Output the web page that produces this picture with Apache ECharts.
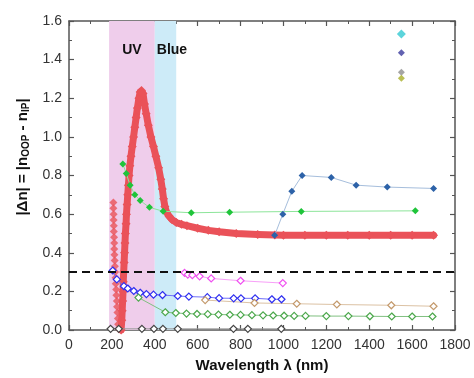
<!DOCTYPE html>
<html><head><meta charset="utf-8">
<script src="https://cdn.jsdelivr.net/npm/echarts@6/dist/echarts.min.js"></script>
<style>html,body{margin:0;padding:0;background:#fff}#c{width:474px;height:378px}</style>
</head><body><div id="c"></div>
<script>
// x tick labels / y tick labels
const xTicks = [0,200,400,600,800,1000,1200,1400,1600,1800];
const yTicks = [0.0,0.2,0.4,0.6,0.8,1.0,1.2,1.4,1.6];
const uvRange = [187, 400];
const blueRange = [400, 500];
const threshold = 0.3;

// Red main curve (wavelength nm, |Δn|)
const redMain = [[243,0.0],[246,0.05],[248,0.1],[250,0.15],[252,0.2],[253,0.25],[255,0.3],[257,0.35],[259,0.4],[261,0.45],[263,0.5],[266,0.55],[268,0.6],[271,0.65],[274,0.7],[277,0.75],[280,0.8],[284,0.85],[289,0.9],[295,0.95],[301,1.0],[307,1.05],[313,1.1],[319,1.15],[326,1.2],[332,1.232],[338,1.24],[345,1.225],[352,1.17],[360,1.12],[370,1.06],[382,1.0],[394,0.95],[405,0.9],[418,0.84],[428,0.78],[435,0.73],[441,0.68],[447,0.64],[455,0.61],[466,0.59],[480,0.572],[500,0.557],[525,0.547],[550,0.54],[600,0.527],[650,0.516],[700,0.509],[780,0.5],[880,0.495],[960,0.492],[1000,0.491],[1100,0.49],[1200,0.49],[1300,0.49],[1400,0.49],[1500,0.49],[1600,0.49],[1700,0.49]];
// Red left branch
const redLeft = [[207,0.66],[207,0.63],[208,0.6],[208,0.57],[209,0.54],[209,0.51],[210,0.48],[211,0.45],[211,0.42],[212,0.39],[213,0.36],[214,0.33],[215,0.30],[217,0.27],[218,0.24],[220,0.21],[221,0.18],[223,0.15],[224,0.12],[226,0.09],[228,0.06],[229,0.03],[231,0.005]];
// Green filled diamonds
const greenFilled = [[251,0.86],[267,0.81],[285,0.75],[307,0.70],[332,0.67],[375,0.635],[439,0.615],[570,0.607],[749,0.61],[1083,0.614],[1615,0.617]];
// Dark blue filled diamonds
const blueFilled = [[959,0.49],[997,0.60],[1039,0.718],[1087,0.80],[1223,0.79],[1339,0.75],[1484,0.74],[1700,0.733]];
// Pink open diamonds
const pinkOpen = [[539,0.296],[554,0.287],[575,0.284],[609,0.278],[663,0.267],[800,0.255],[997,0.243]];
// Blue open diamonds
const blueOpen = [[204,0.308],[223,0.262],[256,0.227],[274,0.215],[302,0.202],[332,0.193],[361,0.186],[394,0.183],[436,0.181],[507,0.176],[559,0.173],[645,0.17],[700,0.165],[768,0.164],[802,0.164],[868,0.164],[946,0.159],[991,0.159]];
// Tan open diamonds
const tanOpen = [[635,0.155],[865,0.14],[1062,0.136],[1249,0.132],[1503,0.128],[1700,0.123]];
// Green open diamonds
const greenOpen = [[324,0.168],[449,0.092],[498,0.088],[548,0.085],[597,0.083],[647,0.082],[697,0.08],[750,0.079],[800,0.078],[853,0.077],[905,0.076],[952,0.075],[1003,0.074],[1050,0.073],[1103,0.073],[1200,0.072],[1303,0.072],[1403,0.071],[1505,0.07],[1600,0.07],[1695,0.07]];
// Gray open diamonds near zero
const grayOpen = [[194,0.006],[232,0.006],[340,0.006],[396,0.006],[438,0.006],[507,0.006],[767,0.006],[834,0.006],[990,0.006]];
// Legend markers (top right)
const legendCyan = [[1550,1.533]];
const legendNavy = [[1550,1.436]];
const legendGray = [[1550,1.335]];
const legendOlive = [[1550,1.304]];

const chart = echarts.init(document.getElementById('c'));
const axisCol = '#555';
const lblCol = '#333';
function openSeries(data, col, lineCol) {
  return {type:'line', data, symbol:'diamond', symbolSize:7, showSymbol:true,
    itemStyle:{color:'#fff', borderColor:col, borderWidth:1.2},
    lineStyle:{color:lineCol, width:1}, animation:false, z:4};
}
function filledSeries(data, col, lineCol, size) {
  return {type:'line', data, symbol:'diamond', symbolSize:size||7,
    itemStyle:{color:col}, lineStyle:{color:lineCol, width:1}, animation:false, z:4};
}
function pt(data, col, size, sym) {
  return {type:'scatter', data, symbol:sym||'diamond', symbolSize:size||7, itemStyle:{color:col}, animation:false, z:5};
}
const option = {
  backgroundColor:'#fff',
  animation:false,
  grid:{left:69, right:19, top:21, bottom:46},
  xAxis:[{
    type:'value', min:0, max:1800, interval:200,
    axisLine:{onZero:false, lineStyle:{color:axisCol, width:1.5}},
    axisTick:{inside:true, length:5, lineStyle:{color:axisCol, width:1.2}},
    minorTick:{show:true, splitNumber:2, length:3, lineStyle:{color:axisCol, width:1}},
    axisLabel:{color:lblCol, fontSize:14, fontFamily:'Liberation Sans', margin:8, formatter:v=>xTicks.includes(v)?String(v):''},
    splitLine:{show:false},
    name:'Wavelength λ (nm)', nameLocation:'middle', nameGap:28,
    nameTextStyle:{color:'#111', fontSize:15, fontWeight:'bold', fontFamily:'Liberation Sans'}
  },{
    type:'value', position:'top', min:0, max:1800, interval:200,
    axisLine:{onZero:false, lineStyle:{color:axisCol, width:1.5}},
    axisTick:{inside:true, length:5, lineStyle:{color:axisCol, width:1.2}},
    minorTick:{show:true, splitNumber:2, length:3, lineStyle:{color:axisCol, width:1}},
    axisLabel:{show:false}, splitLine:{show:false}
  }],
  yAxis:[{
    type:'value', min:0, max:1.6, interval:0.2,
    axisLine:{show:true, onZero:false, lineStyle:{color:axisCol, width:1.5}},
    axisTick:{show:true, inside:true, length:5, lineStyle:{color:axisCol, width:1.2}},
    minorTick:{show:true, splitNumber:2, length:3, lineStyle:{color:axisCol, width:1}},
    axisLabel:{color:lblCol, fontSize:14, fontFamily:'Liberation Sans', margin:7, formatter:v=>v.toFixed(1)},
    splitLine:{show:false}
  },{
    type:'value', position:'right', min:0, max:1.6, interval:0.2,
    axisLine:{show:true, onZero:false, lineStyle:{color:axisCol, width:1.5}},
    axisTick:{show:true, inside:true, length:5, lineStyle:{color:axisCol, width:1.2}},
    minorTick:{show:true, splitNumber:2, length:3, lineStyle:{color:axisCol, width:1}},
    axisLabel:{show:false}, splitLine:{show:false}
  }],
  graphic:[{
    type:'text', x:23, y:157, rotation:Math.PI/2, z:10,
    style:{text:'|Δn| = |n{s|OOP} - n{s|IP}|', fill:'#111', font:'bold 15px "Liberation Sans"',
      align:'center', verticalAlign:'middle',
      rich:{s:{fontSize:10, fontWeight:'bold', fontFamily:'Liberation Sans', fill:'#111', padding:[7,0,0,0]}}}
  }],
  series:[
    {type:'line', data:[], z:1,
      markArea:{silent:true, data:[
        [{xAxis:uvRange[0], itemStyle:{color:'#EFCDEB'}, label:{show:true, position:['50%',29], align:'center', verticalAlign:'middle', formatter:'UV', color:'#111', fontSize:14, fontWeight:'bold', fontFamily:'Liberation Sans'}},{xAxis:uvRange[1]}],
        [{xAxis:blueRange[0], itemStyle:{color:'#CDEBF8'}, label:{show:true, position:[2,29], align:'left', verticalAlign:'middle', formatter:'Blue', color:'#111', fontSize:14, fontWeight:'bold', fontFamily:'Liberation Sans'}},{xAxis:blueRange[1]}]
      ]},
      markLine:{silent:true, symbol:'none', label:{show:false},
        lineStyle:{color:'#111', width:2, type:[8,5]}, data:[{yAxis:threshold}]}
    },
    {type:'line', data:redMain, symbol:'diamond', symbolSize:9, itemStyle:{color:'#EA5259'},
      lineStyle:{color:'#EA5259', width:7, cap:'round', join:'round'}, z:2},
    {type:'scatter', data:redLeft, symbol:'diamond', symbolSize:8, itemStyle:{color:'#EA5259'}, z:2},
    filledSeries(greenFilled, '#1FC43A', '#8DE59A'),
    filledSeries(blueFilled, '#2D62A8', '#A6BEDC'),
    openSeries(pinkOpen, '#F050F0', '#F8A0F8'),
    openSeries(blueOpen, '#3030F0', '#7070F8'),
    openSeries(tanOpen, '#C49A6C', '#DCC2A4'),
    openSeries(greenOpen, '#4CA84C', '#80C080'),
    openSeries(grayOpen, '#444', '#999'),
    pt(legendCyan, '#33C9D2', 9),
    pt(legendNavy, '#3B3B9E', 7),
    pt(legendGray, '#8E8E8E', 7),
    pt(legendOlive, '#A9AF2A', 7)
  ]
};
chart.setOption(option);
</script></body></html>
